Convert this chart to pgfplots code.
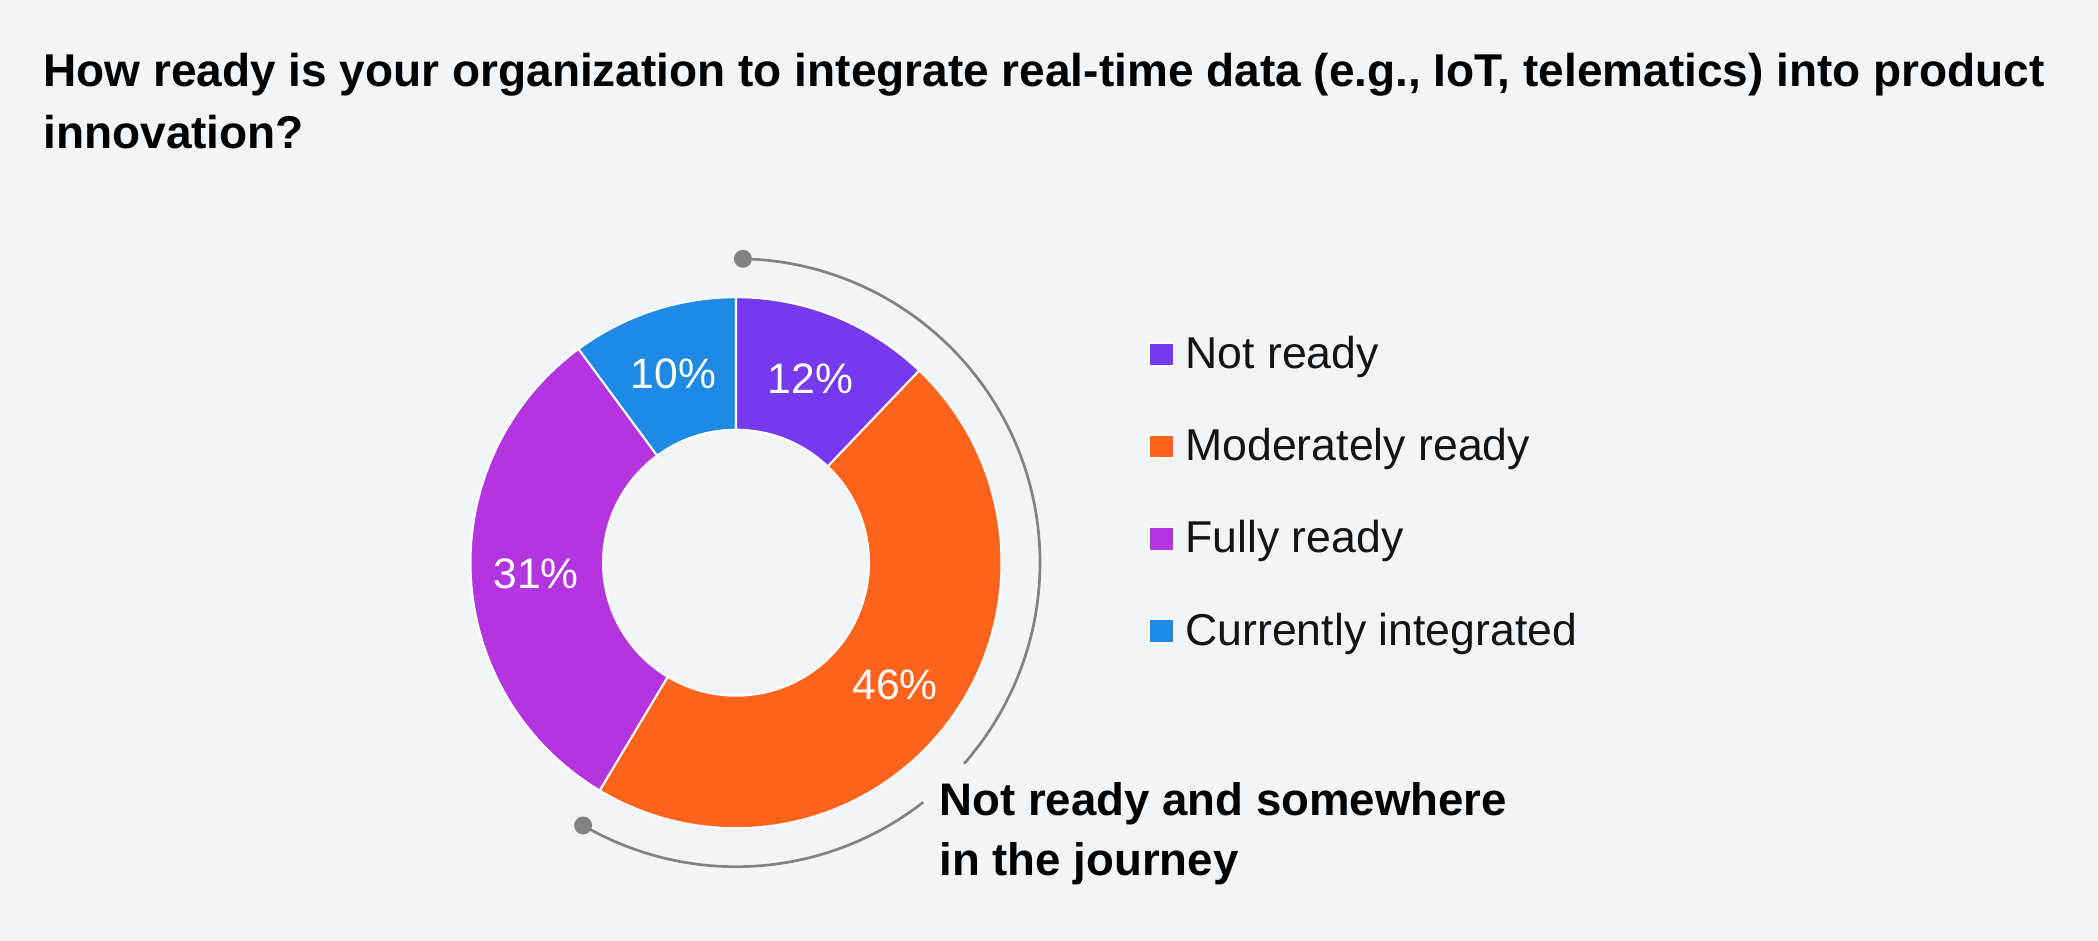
\documentclass[border=0pt]{standalone}
\usepackage{pgfplots}
\usepackage{pgfplotstable}
\pgfplotsset{compat=1.18}
\usepackage{fontspec}
\setmainfont{Liberation Sans}
\definecolor{bg}{RGB}{242,245,248}
\definecolor{cNot}{RGB}{117,57,239}
\definecolor{cMod}{RGB}{255,99,28}
\definecolor{cFull}{RGB}{180,53,224}
\definecolor{cCur}{RGB}{30,138,228}
\definecolor{arcgrey}{RGB}{130,130,130}

\pgfplotstableread[col sep=comma]{
label,value
Not ready,12
Moderately ready,46
Fully ready,31
Currently integrated,10
}\pietable

\newcommand\wedgeseg[3]{%
  \filldraw[fill=#3, draw=white, line width=1pt, line join=round]
    (axis cs:{\cx+\Ro*cos(#1)},{\cy-\Ro*sin(#1)}) arc[start angle=#1, end angle=#2, radius=\Ro*0.5pt]
    -- (axis cs:{\cx+\Ri*cos(#2)},{\cy-\Ri*sin(#2)}) arc[start angle=#2, end angle=#1, radius=\Ri*0.5pt] -- cycle;}
\newcommand\pctlabel[3]{%
  \node[text=white, inner sep=0pt, anchor=base, font=\fontsize{21.3}{25}\selectfont]
    at (axis cs:{\cx+\Rl*cos((#1+#2)/2)},{\cy-\Rl*sin((#1+#2)/2)+16}) {#3\%};}
\newcommand\legrow[3]{%
  \filldraw[fill=#2, draw=white, line width=0.8pt]
    (axis cs:1149.3,{342.7+92.3*#1}) rectangle (axis cs:1173.3,{365.7+92.3*#1});
  \node[anchor=base west, inner sep=0pt, text={rgb,255:red,20;green,20;blue,20}, font=\fontsize{22.3}{26}\selectfont]
    at (axis cs:1185,{368.3+92.3*#1}) {#3};}

\begin{document}
\begin{tikzpicture}
\pgfplotstablegetelem{0}{value}\of\pietable \let\vA\pgfplotsretval
\pgfplotstablegetelem{1}{value}\of\pietable \let\vB\pgfplotsretval
\pgfplotstablegetelem{2}{value}\of\pietable \let\vC\pgfplotsretval
\pgfplotstablegetelem{3}{value}\of\pietable \let\vD\pgfplotsretval
\pgfplotstablegetelem{0}{label}\of\pietable \let\lA\pgfplotsretval
\pgfplotstablegetelem{1}{label}\of\pietable \let\lB\pgfplotsretval
\pgfplotstablegetelem{2}{label}\of\pietable \let\lC\pgfplotsretval
\pgfplotstablegetelem{3}{label}\of\pietable \let\lD\pgfplotsretval
\pgfmathsetmacro{\tot}{\vA+\vB+\vC+\vD}
\pgfmathsetmacro{\aA}{90}
\pgfmathsetmacro{\aB}{\aA-(\vA/\tot)*360}
\pgfmathsetmacro{\aC}{\aB-(\vB/\tot)*360}
\pgfmathsetmacro{\aD}{\aC-(\vC/\tot)*360}
\pgfmathsetmacro{\aE}{\aD-(\vD/\tot)*360}
\def\cx{736}\def\cy{562.7}\def\Ro{265.5}\def\Ri{133}\def\Rl{200}\def\Rarc{304}
\begin{axis}[
  scale only axis, width=1049pt, height=470.5pt,
  xmin=0, xmax=2098, ymin=0, ymax=941, y dir=reverse,
  hide axis, clip=false]
\fill[bg] (axis cs:0,0) rectangle (axis cs:2098,941);
% title
\node[anchor=base west, inner sep=0pt, font=\fontsize{23}{27}\selectfont\bfseries]
  at (axis cs:43,86.7) {How ready is your organization to integrate real-time data (e.g., IoT, telematics) into product};
\node[anchor=base west, inner sep=0pt, font=\fontsize{23}{27}\selectfont\bfseries]
  at (axis cs:43,148.5) {innovation?};
% donut
\wedgeseg{\aA}{\aB}{cNot}
\wedgeseg{\aB}{\aC}{cMod}
\wedgeseg{\aC}{\aD}{cFull}
\wedgeseg{\aD}{\aE}{cCur}
\pctlabel{\aA}{\aB}{\vA}
\pctlabel{\aB}{\aC}{\vB}
\pctlabel{\aC}{\aD}{\vC}
\pctlabel{\aD}{\aE}{\vD}
% bracket arc
\draw[arcgrey, line width=1.35pt]
  (axis cs:{\cx+\Rarc*cos(88.7)},{\cy-\Rarc*sin(88.7)}) arc[start angle=88.7, end angle=-41.4, radius=152pt];
\draw[arcgrey, line width=1.35pt]
  (axis cs:{\cx+\Rarc*cos(-52)},{\cy-\Rarc*sin(-52)}) arc[start angle=-52, end angle=-120.2, radius=152pt];
\fill[arcgrey] (axis cs:{\cx+\Rarc*cos(88.7)},{\cy-\Rarc*sin(88.7)}) circle[radius=4.5pt];
\fill[arcgrey] (axis cs:{\cx+\Rarc*cos(-120.2)},{\cy-\Rarc*sin(-120.2)}) circle[radius=4.5pt];
\node[anchor=base west, inner sep=0pt, font=\fontsize{22.8}{27}\selectfont\bfseries]
  at (axis cs:939,815) {Not ready and somewhere};
\node[anchor=base west, inner sep=0pt, font=\fontsize{22.8}{27}\selectfont\bfseries]
  at (axis cs:939,875) {in the journey};
% legend
\legrow{0}{cNot}{\lA}
\legrow{1}{cMod}{\lB}
\legrow{2}{cFull}{\lC}
\legrow{3}{cCur}{\lD}
\end{axis}
\end{tikzpicture}
\end{document}
